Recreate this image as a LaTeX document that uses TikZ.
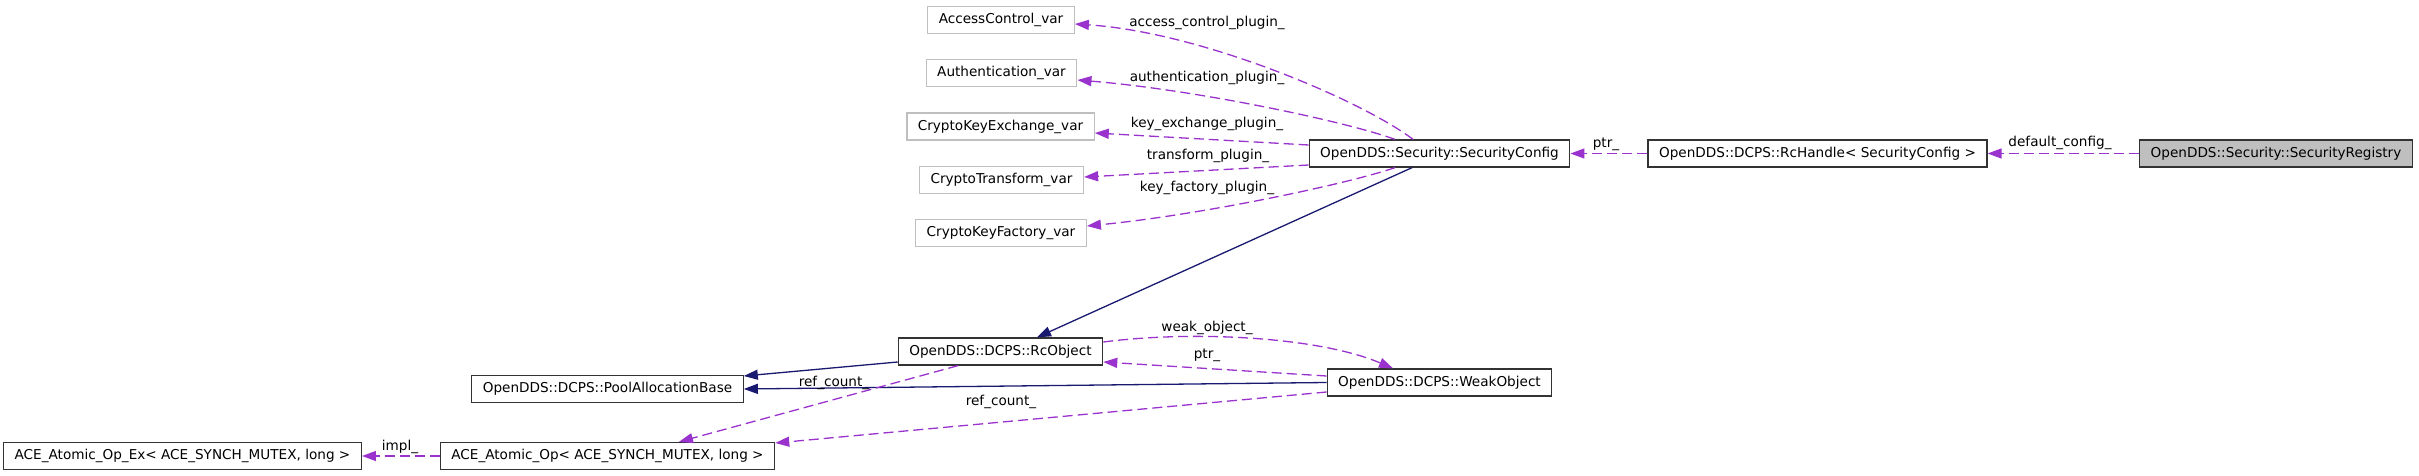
\documentclass[tikz,border=0pt]{standalone}
\usepackage{fontspec}
\setmainfont{DejaVu Sans}
\usetikzlibrary{arrows.meta}
\definecolor{depcol}{HTML}{9A32CD}
\definecolor{inhcol}{HTML}{191970}
\definecolor{extcol}{HTML}{BFBFBF}
\tikzset{
  cls/.style={draw=black!80, line width=1.3pt, inner xsep=11pt, inner ysep=0pt, minimum height=27pt, font=\fontsize{13.6}{16}\selectfont},
  ext/.style={cls, draw=extcol},
  cur/.style={cls, fill=extcol, draw=black!80},
  dep/.style={depcol, line width=1.3pt, dash pattern=on 10pt off 5pt, -{Triangle[length=14pt,width=10pt]}},
  inh/.style={inhcol, line width=1.3pt, -{Triangle[length=14pt,width=10pt]}},
  lbl/.style={font=\fontsize{13.6}{16}\selectfont, inner sep=0pt}
}
\begin{document}
\begin{tikzpicture}[x=1pt,y=-1pt]
\useasboundingbox (0,0) rectangle (2419,476);
\node[ext] (acv) at (1001,20) {AccessControl\_var};
\node[ext] (authv) at (1001.5,73) {Authentication\_var};
\node[ext] (kxv) at (1000.5,126.5) {CryptoKeyExchange\_var};
\node[ext] (ctv) at (1001.5,180) {CryptoTransform\_var};
\node[ext] (kfv) at (1001,233) {CryptoKeyFactory\_var};
\node[cls] (secconf) at (1439.5,153.5) {OpenDDS::Security::SecurityConfig};
\node[cls] (rchandle) at (1817.5,153.5) {OpenDDS::DCPS::RcHandle< SecurityConfig >};
\node[cur] (registry) at (2276,153.5) {OpenDDS::Security::SecurityRegistry};
\node[cls] (rcobj) at (1000.5,351.5) {OpenDDS::DCPS::RcObject};
\node[cls] (pool) at (607.5,389) {OpenDDS::DCPS::PoolAllocationBase};
\node[cls] (weak) at (1439.5,382.5) {OpenDDS::DCPS::WeakObject};
\node[cls] (atomic) at (607.5,456) {ACE\_Atomic\_Op< ACE\_SYNCH\_MUTEX, long >};
\node[cls] (atomicex) at (182.5,456) {ACE\_Atomic\_Op\_Ex< ACE\_SYNCH\_MUTEX, long >};

\draw[dep] ([xshift=-26.5pt]secconf.north) .. controls +(-53,-40) and +(125,8) .. ([yshift=-4pt]acv.east);
\draw[dep] ([xshift=-44.5pt]secconf.north) .. controls +(-50,-18) and +(120,10) .. ([yshift=-7pt]authv.east);
\draw[dep] ([yshift=8.5pt]secconf.west) -- ([yshift=-6.5pt]kxv.east);
\draw[dep] ([yshift=-11.5pt]secconf.west) -- ([yshift=3pt]ctv.east);
\draw[dep] ([xshift=-44.5pt]secconf.south) .. controls +(-50,17) and +(113,-11) .. ([yshift=7pt]kfv.east);
\draw[inh] ([xshift=-27.5pt]secconf.south) -- ([xshift=36.5pt]rcobj.north);
\draw[dep] (rchandle.west) -- (secconf.east);
\draw[dep] (registry.west) -- (rchandle.east);
\draw[inh] ([yshift=-10.5pt]rcobj.west) -- ([yshift=13pt]pool.east);
\draw[inh] (weak.west) -- (pool.east);
\draw[dep] ([yshift=6.5pt]weak.west) -- ([yshift=-10.5pt]rcobj.east);
\draw[dep] ([yshift=9.5pt]rcobj.east) .. controls +(93,-12) and +(-73,-31) .. ([xshift=-46.5pt]weak.north);
\draw[dep] ([xshift=-42.5pt]rcobj.south) -- ([xshift=71.5pt]atomic.north);
\draw[dep] ([yshift=-9.5pt]weak.west) -- ([yshift=13pt]atomic.east);
\draw[dep] (atomic.west) -- (atomicex.east);

\node[lbl] (lacv) at (1207,23) {access\_control\_plugin\_};
\node[lbl] (lauth) at (1207,78) {authentication\_plugin\_};
\node[lbl] (lkx) at (1207,124) {key\_exchange\_plugin\_};
\node[lbl] (lct) at (1208,156) {transform\_plugin\_};
\node[lbl] (lkf) at (1207,188) {key\_factory\_plugin\_};
\node[lbl] (lptra) at (1606,144) {ptr\_};
\node[lbl] (ldef) at (2060,143) {default\_config\_};
\node[lbl] (lweak) at (1207,328) {weak\_object\_};
\node[lbl] (lptrb) at (1207,355) {ptr\_};
\node[lbl] (lrca) at (834,383) {ref\_count\_};
\node[lbl] (lrcb) at (1001,402) {ref\_count\_};
\node[lbl] (limpl) at (400,447) {impl\_};
\end{tikzpicture}
\end{document}
